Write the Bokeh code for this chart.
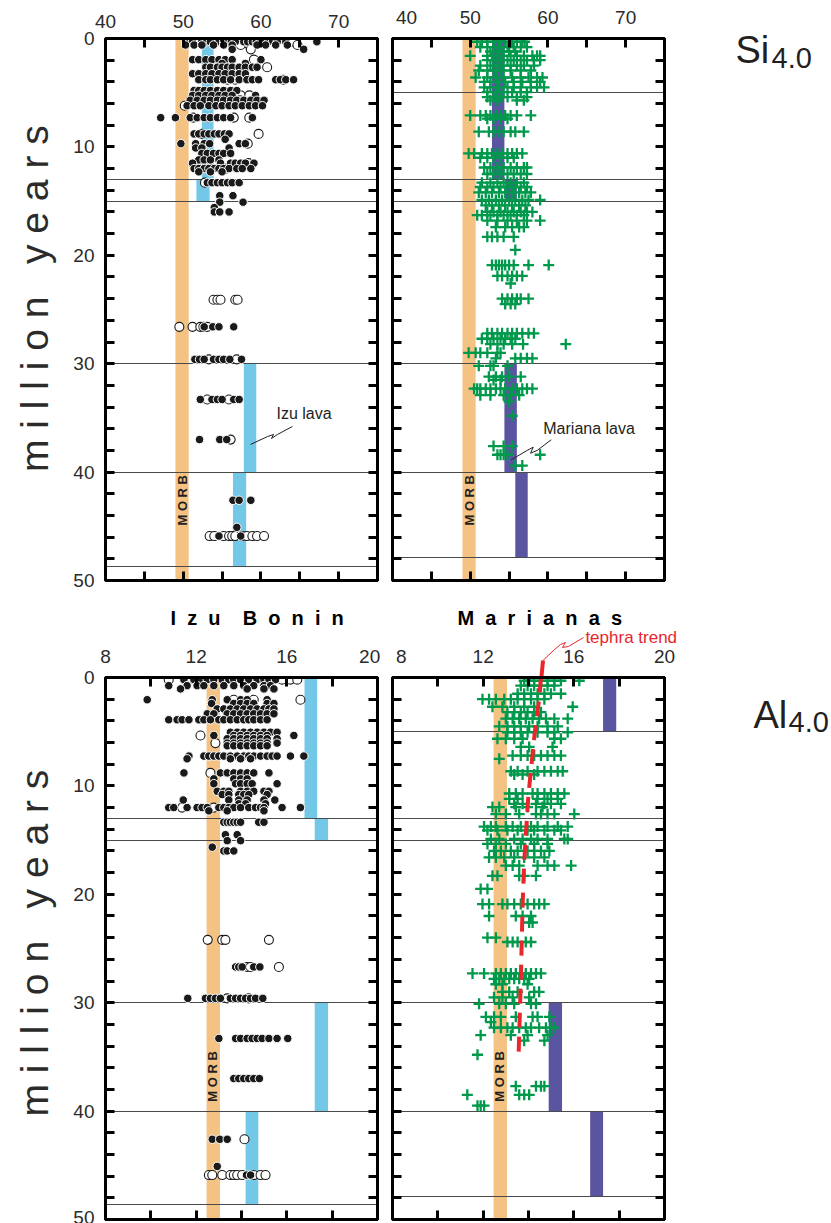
import math
from bokeh.plotting import figure
from bokeh.models import Range1d, LinearAxis, FixedTicker, Title
from bokeh.layouts import column, row
from bokeh.core.properties import value
from bokeh.embed import file_html
from bokeh.resources import INLINE

FONT = "Liberation Sans"
INK = "#231f20"
GREEN = "#00994c"
ORANGE = "#f4c283"
BLUE = "#72c8e6"
PURPLE = "#5a55a0"
RED = "#e8262b"
NB = "\u00a0"

# ---------------- data (age in Ma, oxide wt% at MgO 4.0) ----------------
izu_si_filled = [
    (0.3, [50.3, 50.8, 51.2, 52.4, 53.0, 53.5, 54.6, 55.2, 55.7, 56.2, 56.7, 57.8, 58.3, 58.9, 59.4, 59.9, 60.5, 61.0, 61.5, 62.1, 63.2, 67.2]),
    (0.6, [50.3, 51.4, 52.4, 53.9, 55.2, 56.3, 59.5, 60.6, 61.9, 63.4]),
    (1.0, [56.3, 65.5]),
    (1.95, [51.2, 52.0, 52.9, 53.7, 54.6, 55.4, 56.3, 60.0]),
    (2.3, [55.0, 58.0]),
    (2.65, [52.9, 53.5, 54.4, 55.0, 55.7, 56.3, 57.2, 58.0, 58.9, 59.5]),
    (3.25, [51.2, 52.0, 52.9, 53.7, 54.6, 55.4, 56.3, 57.2, 58.0]),
    (3.8, [52.0, 52.9, 53.5, 54.4, 55.2, 56.1, 57.2, 58.2, 58.9, 59.7, 61.9, 62.5, 63.2, 64.2]),
    (4.8, [51.4, 52.0, 52.7, 53.5, 54.4, 55.2, 56.1, 56.9]),
    (5.25, [51.2, 52.0, 52.9, 53.7, 54.6, 55.4, 56.3, 59.3]),
    (5.7, [50.9, 51.8, 52.7, 53.5, 54.4, 55.2, 56.1, 56.9, 57.8, 58.7, 59.5, 60.4]),
    (6.2, [50.5, 51.4, 52.2, 53.3, 54.2, 55.0, 55.9, 56.7, 57.6, 58.5, 59.3, 60.2]),
    (7.3, [47.1, 49.0, 50.9, 51.8, 52.7, 53.5, 54.4, 55.2, 56.1, 58.9]),
    (8.8, [51.4, 52.0, 52.7, 53.3, 54.0, 54.6, 55.3, 55.9]),
    (9.3, [55.4]),
    (9.7, [49.7, 51.6, 52.7, 53.4, 57.2, 58.0]),
    (10.1, [51.6, 52.4, 55.9]),
    (10.6, [52.4, 53.1, 53.9, 54.6, 55.2, 56.1]),
    (11.2, [52.0, 52.7, 53.5, 54.6]),
    (11.5, [51.2, 54.8, 56.1, 56.7, 57.4, 58.0, 59.1]),
    (12.0, [51.4, 52.0, 52.7, 53.3, 54.0, 54.6, 55.2, 55.9, 56.9, 57.6, 58.7]),
    (12.3, [52.0, 53.5, 55.0]),
    (13.3, [53.1, 53.7, 54.4, 55.0, 55.7, 56.3, 57.2]),
    (14.5, [54.7, 56.4]),
    (15.1, [54.7, 57.7]),
    (15.6, [54.0]),
    (16.0, [54.0, 54.7, 55.9]),
    (26.6, [52.7, 53.8, 54.6, 56.5]),
    (29.6, [51.5, 52.1, 52.7, 53.9, 54.6, 55.2, 56.0, 57.5]),
    (33.3, [52.2, 53.7, 54.4, 55.0, 56.5, 57.2]),
    (37.0, [52.1, 54.7, 55.6]),
    (42.6, [56.4, 57.2, 58.7]),
    (45.1, [56.9]),
    (45.9, [54.6, 57.4]),
]
izu_si_open = [
    (0.3, [57.3, 64.2]),
    (0.6, [57.4, 58.5, 64.7]),
    (1.0, [58.7]),
    (1.95, [59.1]),
    (2.65, [60.8]),
    (3.8, [55.7, 56.7, 62.9]),
    (5.25, [57.4, 58.5]),
    (5.7, [56.5, 57.3]),
    (6.2, [50.2]),
    (7.3, [51.3, 56.5, 58.5]),
    (8.8, [52.4, 59.7]),
    (9.7, [58.3]),
    (11.5, [58.4]),
    (12.0, [53.6, 55.5]),
    (13.3, [52.8]),
    (24.1, [53.9, 54.4, 54.8, 56.7, 57.0]),
    (26.6, [49.5, 51.2, 52.2, 52.6, 53.1]),
    (29.6, [53.3, 56.9]),
    (33.3, [53.1, 55.9]),
    (37.0, [56.1]),
    (45.9, [53.4, 54.0, 55.2, 55.9, 56.3, 56.7, 57.6, 58.2, 58.9, 59.5, 60.4]),
]

mar_si = [
    (0.3, [50.9, 51.5, 52.2, 53.0, 53.7, 54.5, 55.4, 56.0, 56.7, 57.0]),
    (0.8, [51.3, 52.2, 53.0, 53.9, 54.8, 55.6, 56.5, 57.3]),
    (1.2, [52.6, 53.5, 54.3, 55.0, 55.8]),
    (1.6, [50.0, 52.2, 52.8, 53.5, 54.3, 55.2, 56.0, 56.9, 58.0, 58.6, 59.0]),
    (2.0, [52.2, 53.0, 53.9, 54.8, 55.6, 56.5, 57.3, 58.2, 59.0]),
    (2.5, [51.3, 52.6, 53.5, 54.3, 55.2, 56.0, 56.9, 58.2]),
    (2.95, [51.1, 52.2, 53.0, 53.9, 55.2, 56.5, 57.8]),
    (3.6, [50.7, 52.2, 53.3, 54.3, 55.4, 56.5, 57.5, 58.6, 59.3]),
    (4.0, [51.8, 52.6, 53.5, 54.5, 55.6, 56.7, 57.8, 59.0]),
    (4.5, [51.8, 52.6, 53.7, 54.8, 55.6, 56.5, 57.8, 58.6, 59.5]),
    (4.95, [52.2, 53.3, 54.3, 55.4, 56.5, 57.3]),
    (5.4, [52.2, 53.0, 53.9, 54.8, 56.0, 57.3]),
    (5.7, [52.6, 53.5, 56.0, 56.9]),
    (7.1, [50.0, 51.3, 52.0, 52.6, 53.3, 53.9, 54.5, 55.2, 56.0, 57.8]),
    (7.4, [52.2, 53.0, 53.9, 54.8]),
    (8.6, [51.1, 52.4, 53.0, 53.7, 54.3, 55.2, 55.8, 56.9]),
    (10.6, [49.8, 50.5, 51.5, 52.2, 52.8, 53.5, 54.1, 54.8, 55.4, 56.0, 56.7]),
    (11.0, [51.3, 52.2, 53.0, 53.9, 54.8, 55.6]),
    (11.9, [51.8, 52.6, 53.5, 54.3, 55.2, 56.0, 56.9, 57.3]),
    (12.5, [52.2, 53.0, 53.9, 54.8, 55.6, 56.5, 57.3]),
    (13.3, [51.5, 52.6, 53.5, 54.3, 55.2, 56.0, 56.9]),
    (13.7, [51.3, 52.2, 53.0, 53.9, 54.8, 55.6, 56.5, 57.3]),
    (14.2, [51.1, 52.0, 52.8, 53.7, 54.5, 55.4, 56.3, 57.1, 57.8]),
    (14.9, [51.5, 52.4, 53.3, 54.1, 55.0, 55.8, 56.7, 57.5, 59.0]),
    (15.4, [52.0, 52.8, 53.7, 54.5, 55.4, 56.3, 57.1]),
    (16.0, [52.2, 53.0, 53.9, 54.8, 55.6, 56.5, 57.3, 58.0]),
    (16.3, [50.9, 51.5, 52.6, 53.5, 54.3, 55.2, 56.0, 56.9]),
    (16.8, [52.2, 53.5, 54.8, 56.0, 57.3, 59.0]),
    (17.4, [53.3, 54.5, 55.4, 56.3, 56.9]),
    (18.3, [52.2, 52.8, 53.5, 54.3, 55.6]),
    (19.5, [55.8]),
    (20.9, [52.8, 53.3, 53.7, 54.1, 54.5, 55.0, 55.6, 57.5, 60.1]),
    (21.9, [53.5, 54.1, 54.8, 55.4, 56.0, 56.7]),
    (22.6, [55.2]),
    (24.0, [54.1, 54.8, 55.4, 56.0, 56.5, 57.5]),
    (24.5, [54.5, 55.2, 55.8]),
    (27.2, [52.2, 52.8, 53.5, 54.1, 54.8, 55.4, 56.0, 56.7, 57.5, 58.2]),
    (27.7, [51.5, 52.2, 53.0, 53.9, 54.5, 55.2, 55.8]),
    (28.2, [52.6, 53.5, 54.3, 55.4, 56.8, 62.3]),
    (29.0, [49.8, 50.7, 51.3, 52.2, 53.5, 53.9]),
    (29.5, [53.3, 55.8, 56.5, 57.3, 58.0]),
    (30.2, [51.1, 52.6, 53.0, 54.8]),
    (31.2, [52.4, 53.3, 54.1, 55.0, 56.5]),
    (31.5, [53.0, 53.9]),
    (32.3, [50.5, 50.9, 51.3, 52.0, 52.6, 53.3, 53.9, 54.5, 55.4, 56.0, 56.7, 57.3, 58.0]),
    (32.9, [51.3, 52.6, 54.3, 55.2, 56.3]),
    (33.5, [55.0]),
    (34.8, [55.4]),
    (37.6, [53.0, 54.3, 55.4]),
    (38.4, [53.5, 53.9, 54.3, 54.8, 59.0]),
    (39.4, [55.8, 56.7]),
]

izu_al_filled = [
    (0.2, [11.46, 11.90, 12.19, 12.49, 12.78, 13.15, 13.44, 13.66, 13.96, 14.32, 14.69, 14.99, 15.21, 15.50]),
    (0.75, [10.79, 11.60, 12.04, 12.34, 12.78, 13.22, 13.66, 14.10, 14.54, 14.99, 15.28]),
    (1.05, [11.31, 14.25, 14.99, 15.43]),
    (2.05, [9.84, 12.71, 13.37, 13.96, 14.25, 15.13]),
    (2.4, [12.68, 13.66, 13.96, 14.25, 14.54, 15.13, 15.43]),
    (2.9, [12.93, 13.22, 13.51, 13.81, 14.10, 14.40, 14.69, 14.99, 15.21, 15.43]),
    (3.35, [12.49, 12.78, 13.37, 13.66, 13.96, 14.25, 14.54, 14.84, 15.13, 15.43]),
    (3.9, [10.79, 11.16, 11.38, 11.68, 12.12, 12.34, 12.63, 13.00, 13.22, 13.51, 13.81, 14.10, 14.32, 14.54, 14.84, 15.13]),
    (5.05, [13.51, 13.81, 14.10, 14.40, 14.69, 14.99, 15.28, 15.57]),
    (5.35, [12.78, 13.66, 13.96, 14.25, 14.54, 14.84, 15.13, 16.31]),
    (5.65, [13.37, 13.66, 13.96, 14.25, 14.54, 14.84, 15.13, 15.57]),
    (6.05, [13.37, 13.66, 13.96, 14.25, 14.54, 14.84, 15.13, 15.57]),
    (6.3, [13.37, 13.66, 13.96, 14.25, 14.54, 14.84, 15.13]),
    (7.25, [11.68, 12.34, 12.56, 12.78, 13.00, 13.22, 13.51, 13.81, 14.10, 14.32, 14.54, 14.84, 15.13, 15.35, 15.57, 16.16, 16.75]),
    (7.5, [11.60, 13.51, 13.96, 14.40]),
    (8.8, [11.46, 13.07, 13.37, 13.66, 13.96, 14.25, 14.54, 15.21]),
    (9.35, [12.78, 13.66, 13.96, 14.25]),
    (9.8, [12.78, 13.74, 13.96, 14.25, 14.47, 15.57]),
    (10.5, [12.93, 13.22, 13.44, 13.96, 14.25, 14.54, 14.99, 15.21]),
    (10.8, [13.15, 13.44, 13.88, 14.10, 14.32, 15.13]),
    (11.3, [11.43, 13.44, 13.88, 14.25, 14.99, 15.47]),
    (11.65, [13.88, 14.18, 15.06]),
    (12.0, [10.79, 11.01, 11.60, 12.04, 12.26, 12.49, 13.00, 13.22, 13.44, 13.66, 13.96, 14.32, 14.62, 14.84, 14.99, 15.79, 16.60]),
    (12.3, [12.56, 13.37, 14.99]),
    (13.35, [13.22, 13.37, 13.51, 13.66, 13.81, 13.96, 14.76, 14.99]),
    (14.5, [13.29, 13.81]),
    (15.05, [13.37, 13.96]),
    (15.65, [12.71]),
    (16.0, [13.22, 13.37, 13.66]),
    (26.7, [13.74, 13.88, 14.03, 14.54, 14.81]),
    (29.6, [11.63, 12.41, 12.63, 12.85, 13.07, 13.51, 13.74, 13.96, 14.18, 14.40, 14.62, 14.94]),
    (33.3, [13.00, 13.74, 13.96, 14.25, 14.47, 14.69, 14.91, 15.21, 15.57, 16.04]),
    (37.0, [13.66, 13.88, 14.10, 14.32, 14.54, 14.79]),
    (42.6, [12.71, 13.04, 13.37]),
    (45.1, [12.93]),
    (45.9, [14.22, 14.40]),
]
izu_al_open = [
    (0.2, [10.79, 11.68, 15.79, 16.16, 16.46]),
    (2.05, [13.66, 14.54, 16.60]),
    (5.35, [12.19]),
    (6.05, [12.85]),
    (8.8, [12.63]),
    (12.0, [11.38, 12.78]),
    (24.2, [12.51, 13.15, 13.29, 15.21]),
    (26.7, [14.25, 14.40, 15.65]),
    (29.6, [13.37, 14.32]),
    (42.6, [14.13]),
    (45.9, [12.56, 12.71, 13.15, 13.51, 13.66, 13.81, 14.03, 14.54, 14.84, 15.06]),
]

mar_al = [
    (0.3, [13.81, 14.03, 14.25, 14.55, 14.84, 15.14, 15.43, 16.24]),
    (0.75, [13.66, 13.96, 14.25, 14.55, 14.84, 15.14]),
    (1.5, [13.52, 13.81, 14.11, 14.40, 14.70, 14.99, 15.43]),
    (2.0, [11.97, 12.26, 12.56, 12.93, 13.22, 13.52, 13.81, 14.11, 14.40, 14.70]),
    (2.7, [12.41, 12.85, 13.37, 13.81, 14.25, 15.95]),
    (3.2, [13.07, 13.37, 13.66, 13.96, 14.25, 14.55]),
    (3.8, [13.00, 13.30, 13.59, 13.88, 14.18, 14.47, 14.77, 15.14, 15.73]),
    (4.5, [12.71, 13.07, 13.37, 13.66, 14.03, 14.40, 14.84, 15.29]),
    (5.05, [13.07, 13.37, 13.66, 13.96, 14.40, 14.84, 15.14, 15.73]),
    (5.65, [12.63, 13.00, 13.37, 13.74, 15.14, 15.43]),
    (6.4, [13.66, 14.03, 15.06]),
    (7.2, [13.30, 13.66, 13.96, 14.25, 14.55, 14.84, 15.14, 15.43]),
    (7.5, [12.71]),
    (8.65, [13.22, 13.52, 13.96, 14.40, 14.70, 14.99, 15.29, 15.51]),
    (8.95, [13.37, 13.74, 14.25]),
    (10.7, [13.15, 13.44, 13.74, 14.18, 14.40, 14.70, 14.99, 15.29, 15.58]),
    (11.2, [13.15, 13.52, 14.40, 14.84, 15.29]),
    (11.65, [13.37, 13.74, 14.33, 14.70, 14.99, 15.43]),
    (11.95, [12.41, 12.71, 13.44, 13.96, 14.62]),
    (12.6, [12.56, 13.00, 13.59, 14.33, 14.55, 14.84, 15.14, 16.02]),
    (13.75, [12.04, 12.34, 12.56, 13.00, 13.30, 13.66, 14.11, 14.40, 14.84, 15.29, 15.73]),
    (14.1, [12.19, 12.63, 13.07, 13.52, 13.96, 14.25, 14.70, 15.14, 15.43]),
    (14.9, [12.34, 12.71, 13.37, 13.74, 14.11, 14.40, 14.84, 15.58, 15.73]),
    (15.35, [12.19, 12.56, 13.00, 13.66, 14.25, 14.84]),
    (16.0, [12.48, 12.78, 13.22, 13.52, 13.96, 14.25, 14.55, 14.92]),
    (16.6, [12.26, 12.56, 12.93, 13.37, 13.81, 14.25, 14.70]),
    (17.35, [13.00, 13.30, 13.59, 14.40, 14.84, 15.14, 15.88]),
    (18.3, [12.41, 12.63, 13.59, 13.81, 14.33]),
    (19.5, [11.89, 12.19]),
    (20.9, [11.97, 12.26, 12.85, 13.07, 13.37, 13.66, 13.96, 14.25, 14.47, 14.70]),
    (22.0, [12.26, 13.44, 13.74, 14.11]),
    (22.6, [14.03, 14.18]),
    (24.0, [12.19, 12.56]),
    (24.4, [13.07, 13.30, 13.52, 13.88, 14.11]),
    (27.3, [11.53, 12.04, 12.56, 12.78, 13.00, 13.22, 13.44, 13.66, 13.88, 14.11, 14.33, 14.55]),
    (27.8, [12.48, 12.71, 12.93, 13.15, 13.37, 13.59, 13.81, 14.03]),
    (28.3, [12.56, 12.85, 13.96]),
    (29.0, [12.85, 13.15, 13.52, 14.25, 14.47]),
    (29.5, [12.48, 12.85, 13.30, 14.03]),
    (30.1, [11.82, 12.71, 13.00, 13.37, 14.11, 14.33]),
    (31.3, [12.12, 12.48, 12.78, 13.44, 14.18, 14.40, 14.92]),
    (31.8, [12.34]),
    (32.3, [12.48, 12.78, 13.07, 13.30, 13.59, 13.88, 14.11, 14.47, 14.77, 14.99, 15.14]),
    (33.0, [11.89, 13.22, 13.96, 14.84]),
    (33.5, [13.81, 14.70]),
    (34.8, [11.75]),
    (37.7, [13.44, 14.33, 14.55, 14.70]),
    (38.5, [11.30, 13.59, 13.81, 14.03]),
    (39.5, [11.75, 11.89, 12.04]),
]

# tephra trend (Marianas Al2O3); the first short stroke sits just above the 0 Ma frame edge
tephra_age = [0, 2, 5, 11, 17, 21, 28, 35]
tephra_al = [14.55, 14.47, 14.28, 13.99, 13.81, 13.74, 13.66, 13.56]
tephra_top_age = [-1.57, 0.2]
tephra_top_al = [14.64, 14.56]

morb_si = (49.0, 50.7)
morb_al = (12.46, 13.05)
izu_lava_si = {"top": [0, 13, 30, 40], "bottom": [13, 15, 40, 48.7],
               "left": [52.4, 51.7, 57.8, 56.4], "right": [53.9, 53.4, 59.4, 58.1]}
mar_lava_si = {"top": [0, 13, 30, 40], "bottom": [13, 15, 40, 47.9],
               "left": [52.8, 54.5, 54.4, 55.8], "right": [54.4, 56.0, 56.0, 57.4]}
izu_lava_al = {"top": [0, 13, 30, 40], "bottom": [13, 15, 40, 48.6],
               "left": [16.78, 17.23, 17.23, 14.18], "right": [17.34, 17.82, 17.82, 14.74]}
mar_lava_al = {"top": [0, 30, 40], "bottom": [5, 40, 47.9],
               "left": [17.29, 14.89, 16.72], "right": [17.87, 15.48, 17.29]}

izu_si_lines = [13, 15, 30, 40, 48.7]
mar_si_lines = [5, 13, 15, 30, 40, 47.9]
izu_al_lines = [13, 15, 30, 40, 48.6]
mar_al_lines = [5, 13, 15, 30, 40, 47.9]

izu_leader_x = [58.66, 60.85, 61.62, 61.36, 62.13, 64.06]
izu_leader_y = [37.45, 36.72, 36.53, 36.90, 36.53, 35.79]
mar_leader_x = [55.27, 57.33, 58.11, 57.76, 58.62, 60.42]
mar_leader_y = [38.87, 38.00, 37.70, 38.26, 38.00, 37.02]
tephra_leader_x = [14.64, 15.10, 15.41, 15.63, 15.50, 15.76, 16.43]
tephra_leader_y = [-1.57, -2.49, -3.04, -3.23, -2.77, -2.86, -3.69]

age_ticks = [0, 10, 20, 30, 40, 50]
age_minor = [2, 4, 6, 8, 12, 14, 16, 18, 22, 24, 26, 28, 32, 34, 36, 38, 42, 44, 46, 48]
si_ticks = [40, 50, 60, 70]
si_minor = [45, 55, 65, 75]
al_ticks = [8, 12, 16, 20]
al_minor = [10, 14, 18]

# page geometry (px)
PAGE_W = 831
FRAME_W, FRAME_H = 272, 542
TOP_BORDER_TOP = 38
TOP_ROW_H = 590
BOT_BORDER_TOP = 87
LEFT_W = 105 + FRAME_W + 8
RIGHT_L = LEFT_W + 7
RIGHT_BORDER = PAGE_W - (RIGHT_L + FRAME_W)
BR_TOP = TOP_ROW_H + BOT_BORDER_TOP
OVER_H = 740


def expand(rows):
    xs, ys = [], []
    for age, vals in rows:
        for v in vals:
            xs.append(v)
            ys.append(age)
    return xs, ys


def style_axis(ax):
    ax.axis_line_width = 3
    ax.axis_line_color = "black"
    ax.major_tick_in = 9
    ax.major_tick_out = 0
    ax.minor_tick_in = 9
    ax.minor_tick_out = 0
    ax.major_tick_line_width = 3
    ax.minor_tick_line_width = 3
    ax.major_tick_line_color = "black"
    ax.minor_tick_line_color = "black"
    ax.major_label_text_font = FONT
    ax.major_label_text_color = "#2b2b2b"
    ax.major_label_text_font_size = "19px"
    ax.major_label_standoff = 11


def panel(xr, xt, xm, left_label_lead, borders, overrides=None):
    bl, br, bt, bb = borders
    p = figure(frame_width=FRAME_W, frame_height=FRAME_H, x_range=Range1d(*xr), y_range=Range1d(50, 0),
               x_axis_location="above", output_backend="svg", toolbar_location=None,
               min_border_left=bl, min_border_right=br, min_border_top=bt, min_border_bottom=bb)
    p.grid.visible = False
    p.outline_line_color = "black"
    p.outline_line_width = 3
    p.background_fill_color = "white"
    p.border_fill_color = None
    p.xaxis[0].ticker = FixedTicker(ticks=xt, minor_ticks=xm)
    style_axis(p.xaxis[0])
    if overrides:
        p.xaxis[0].major_label_overrides = overrides
    if left_label_lead is not None:
        p.yaxis[0].ticker = FixedTicker(ticks=age_ticks, minor_ticks=age_minor)
    else:
        p.yaxis[0].ticker = FixedTicker(ticks=[], minor_ticks=age_ticks + age_minor)
    style_axis(p.yaxis[0])
    ra = LinearAxis(ticker=FixedTicker(ticks=[], minor_ticks=age_ticks + age_minor))
    style_axis(ra)
    p.add_layout(ra, "right")
    ba = LinearAxis(ticker=FixedTicker(ticks=[], minor_ticks=xt + xm))
    style_axis(ba)
    p.add_layout(ba, "below")
    if left_label_lead is not None:
        ax = p.yaxis[0]
        ax.axis_label = NB * left_label_lead + "m i l l i o n " + NB + " y e a r s"
        ax.axis_label_text_font = FONT
        ax.axis_label_text_font_size = "39px"
        ax.axis_label_text_font_style = "normal"
        ax.axis_label_text_color = "#2b2b2b"
        ax.axis_label_standoff = 14
    return p


def bands(p, morb, lava, lava_color):
    p.quad(left=[morb[0]], right=[morb[1]], top=[0], bottom=[50], fill_color=ORANGE, line_color=None)
    p.quad(left=lava["left"], right=lava["right"], top=lava["top"], bottom=lava["bottom"],
           fill_color=lava_color, line_color=None)


def hlines(p, ys):
    p.hspan(y=ys, line_color="#4a4a4a", line_width=1)


def morb_text(p, x, y):
    p.text(x=[x], y=[y], text=["M O R B"], angle=math.pi / 2, text_align="center", text_baseline="middle",
           text_font=value(FONT), text_font_size="13px", text_font_style="bold", text_color=INK)


def izu_points(p, filled, opened):
    ox, oy = expand(opened)
    fx, fy = expand(filled)
    p.scatter(ox, oy, marker="circle", size=9, fill_color="white", line_color="#1a1a1a", line_width=1.1)
    p.scatter(fx, fy, marker="circle", size=8.5, fill_color="#1a1a1a", line_color="white", line_width=1)


def mar_points(p, rows):
    x, y = expand(rows)
    p.scatter(x, y, marker="cross", size=11, line_color=GREEN, line_width=2.3)


def spaced(word_list):
    words = [(NB + " ").join(list(w)) for w in word_list]
    return (NB + " " + NB + " ").join(words)


# ---------------- top row: SiO2 ----------------
tl = panel((40, 75), si_ticks, si_minor, 2, (105, 8, TOP_BORDER_TOP, 10))
bands(tl, morb_si, izu_lava_si, BLUE)
hlines(tl, izu_si_lines)
morb_text(tl, 49.85, 42.6)
izu_points(tl, izu_si_filled, izu_si_open)
tl.line(izu_leader_x, izu_leader_y, line_color=INK, line_width=1)
tl.text(x=[62.0], y=[34.6], text=["Izu lava"], text_baseline="middle", text_font=value(FONT),
        text_font_size="16px", text_color=INK)

tr = panel((40, 75), si_ticks, si_minor, None, (7, RIGHT_BORDER, TOP_BORDER_TOP, 10),
           overrides={40: NB + NB + "40"})
bands(tr, morb_si, mar_lava_si, PURPLE)
hlines(tr, mar_si_lines)
morb_text(tr, 49.85, 42.6)
mar_points(tr, mar_si)
tr.line(mar_leader_x, mar_leader_y, line_color=INK, line_width=1)
tr.text(x=[59.4], y=[36.0], text=["Mariana lava"], text_baseline="middle", text_font=value(FONT),
        text_font_size="16px", text_color=INK)

# ---------------- bottom row: Al2O3 ----------------
bl = panel((8, 20), al_ticks, al_minor, 1, (105, 8, BOT_BORDER_TOP, 4), overrides={20: "20" + NB})
bands(bl, morb_al, izu_lava_al, BLUE)
hlines(bl, izu_al_lines)
morb_text(bl, 12.74, 36.8)
izu_points(bl, izu_al_filled, izu_al_open)
bl.title = Title(text=spaced(["Izu", "Bonin"]), align="left", offset=65, standoff=27, text_font=FONT,
                 text_font_size="20px", text_font_style="bold", text_color="black")

br = panel((8, 20), al_ticks, al_minor, None, (7, RIGHT_BORDER, BOT_BORDER_TOP, 4),
           overrides={8: NB + NB + "8"})
bands(br, morb_al, mar_lava_al, PURPLE)
hlines(br, mar_al_lines)
morb_text(br, 12.74, 36.8)
mar_points(br, mar_al)
br.line(tephra_al, tephra_age, line_color=RED, line_width=4, line_dash="15 9")
br.title = Title(text=spaced(["Marianas"]), align="left", offset=65, standoff=27, text_font=FONT,
                 text_font_size="20px", text_font_style="bold", text_color="black")

# ---------------- transparent overlay (same scales as the Marianas Al panel) ----------------
al_px = FRAME_W / 12.0
age_px = FRAME_H / 50.0


def to_al(px):
    return 8 + (px - RIGHT_L) / al_px


def to_age(py):
    return (py - BR_TOP) / age_px


ov = figure(width=PAGE_W, height=OVER_H, x_range=Range1d(to_al(0), to_al(PAGE_W)),
            y_range=Range1d(to_age(OVER_H), to_age(0)), title=None, x_axis_location=None,
            y_axis_location=None, output_backend="svg", toolbar_location=None, min_border=0,
            outline_line_color=None, margin=(0, 0, -OVER_H, 0))
ov.grid.visible = False
ov.background_fill_color = None
ov.border_fill_color = None
ov.line(tephra_top_al, tephra_top_age, line_color=RED, line_width=4)
ov.line(tephra_leader_x, tephra_leader_y, line_color=RED, line_width=1)
ov.text(x=[16.51], y=[-3.69], text=["tephra trend"], text_baseline="middle", text_font=value(FONT),
        text_font_size="17px", text_color=RED)
# oxide labels at the right margin (page positions in px)
ov.text(x=[to_al(735), to_al(753)], y=[to_age(49), to_age(714)], text=["Si", "Al"], text_baseline="middle",
        text_font=value(FONT), text_font_size="38px", text_color=INK)
ov.text(x=[to_al(771), to_al(788)], y=[to_age(57), to_age(721)], text=["4.0", "4.0"], text_baseline="middle",
        text_font=value(FONT), text_font_size="29px", text_color=INK)

layout = column(ov, row(tl, tr), row(bl, br))
open("out.html", "w").write(file_html(layout, INLINE))
